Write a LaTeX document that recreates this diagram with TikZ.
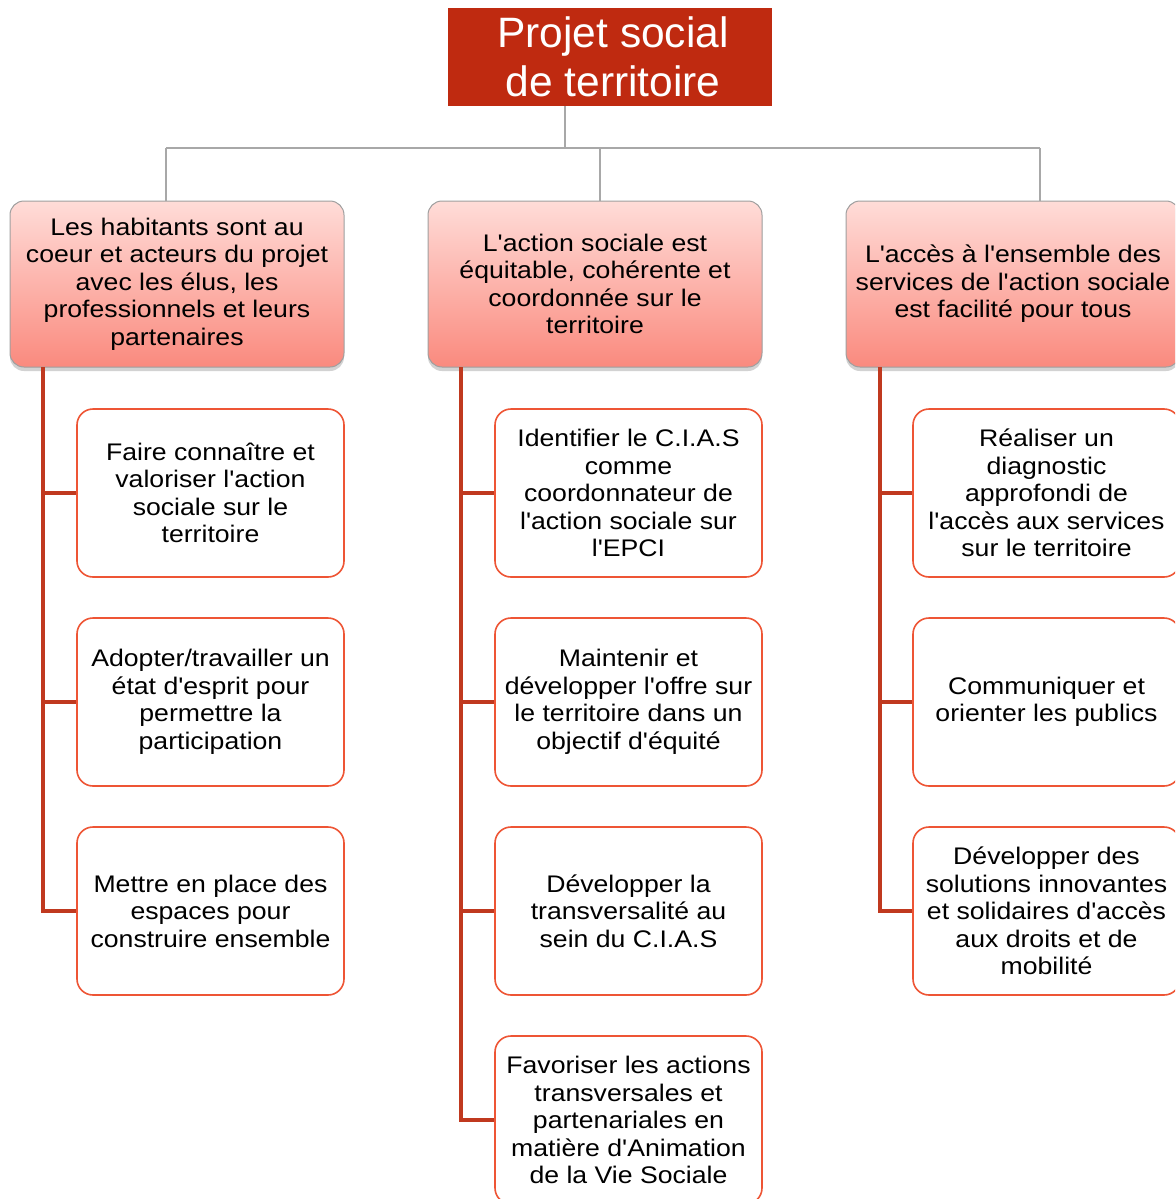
\documentclass[tikz,border=0pt]{standalone}
\usepackage{fontspec}
\setmainfont{Liberation Sans}[Ligatures=TeXOff]
\newfontfamily\bodyfont{Liberation Sans}[FakeStretch=1.11, Ligatures=TeXOff]
\usetikzlibrary{shadows}
\definecolor{titlered}{HTML}{BF2A10}
\definecolor{linkred}{HTML}{C0391F}
\definecolor{boxred}{HTML}{EE5535}
\definecolor{pinktop}{HTML}{FFDCD8}
\definecolor{pinkbot}{HTML}{FA8A7E}
\definecolor{graylink}{HTML}{A8A8A8}
\tikzset{
  txt/.style={font=\bodyfont\fontsize{24}{27.5}\selectfont, align=center, text=black},
  titlebox/.style={fill=titlered, text=white, font=\fontsize{42.5}{49}\selectfont, align=center,
    minimum width=324pt, minimum height=98pt, inner sep=0pt},
  headbox/.style={txt, rounded corners=14pt, draw=gray!75, line width=1pt,
    top color=pinktop, bottom color=pinkbot, minimum width=334pt, minimum height=166pt, inner sep=0pt,
    drop shadow={shadow xshift=0pt, shadow yshift=-4pt, opacity=0.35, fill=gray}},
  childbox/.style={txt, rounded corners=16pt, draw=boxred, line width=1.6pt, fill=white,
    minimum width=267pt, minimum height=168pt, inner sep=0pt},
  graylinkstyle/.style={draw=graylink, line width=1.6pt},
  redlink/.style={draw=linkred, line width=4.5pt}
}
\begin{document}
\begin{tikzpicture}[x=1pt,y=-1pt]
\useasboundingbox (0,0) rectangle (1175,1199);
\clip (0,0) rectangle (1175,1199);
\fill[white] (0,0) rectangle (1175,1199);

% title
\node[titlebox] (T) at (610,57) {\hspace*{6pt}Projet social\\\hspace*{6pt}de territoire};

% headers
\node[headbox] (H1) at (177,284) {Les habitants sont au\\coeur et acteurs du projet\\avec les élus, les\\professionnels et leurs\\partenaires};
\node[headbox] (H2) at (595,284) {L'action sociale est\\équitable, cohérente et\\coordonnée sur le\\territoire};
\node[headbox] (H3) at (1013,284) {L'accès à l'ensemble des\\services de l'action sociale\\est facilité pour tous};

% gray connectors
\coordinate (J) at (565,148);
\coordinate (JL) at (166,148);
\coordinate (JM) at (600,148);
\coordinate (JR) at (1040,148);
\draw[graylinkstyle] (T.south -| J) -- (J);
\draw[graylinkstyle] (JL) -- (JR);
\draw[graylinkstyle] (JL) -- (JL |- H1.north);
\draw[graylinkstyle] (JM) -- (JM |- H2.north);
\draw[graylinkstyle] (JR) -- (JR |- H3.north);

% children left
\node[childbox] (L1) at (210.5,493) {Faire connaître et\\valoriser l'action\\sociale sur le\\territoire};
\node[childbox] (L2) at (210.5,702) {Adopter/travailler un\\état d'esprit pour\\permettre la\\participation};
\node[childbox] (L3) at (210.5,911) {Mettre en place des\\espaces pour\\construire ensemble};

% children middle
\node[childbox] (M1) at (628.5,493) {Identifier le C.I.A.S\\comme\\coordonnateur de\\l'action sociale sur\\l'EPCI};
\node[childbox] (M2) at (628.5,702) {Maintenir et\\développer l'offre sur\\le territoire dans un\\objectif d'équité};
\node[childbox] (M3) at (628.5,911) {Développer la\\transversalité au\\sein du C.I.A.S};
\node[childbox] (M4) at (628.5,1120) {Favoriser les actions\\transversales et\\partenariales en\\matière d'Animation\\de la Vie Sociale};

% children right
\node[childbox] (R1) at (1046.5,493) {Réaliser un\\diagnostic\\approfondi de\\l'accès aux services\\sur le territoire};
\node[childbox] (R2) at (1046.5,702) {Communiquer et\\orienter les publics};
\node[childbox] (R3) at (1046.5,911) {Développer des\\solutions innovantes\\et solidaires d'accès\\aux droits et de\\mobilité};

% red connectors
\coordinate (XL) at (43,367);
\coordinate (XM) at (461,367);
\coordinate (XR) at (880,367);
\draw[redlink] (XL) -- (XL |- L3.west) -- (L3.west);
\draw[redlink] (XL |- L1.west) -- (L1.west);
\draw[redlink] (XL |- L2.west) -- (L2.west);
\draw[redlink] (XM) -- (XM |- M4.west) -- (M4.west);
\draw[redlink] (XM |- M1.west) -- (M1.west);
\draw[redlink] (XM |- M2.west) -- (M2.west);
\draw[redlink] (XM |- M3.west) -- (M3.west);
\draw[redlink] (XR) -- (XR |- R3.west) -- (R3.west);
\draw[redlink] (XR |- R1.west) -- (R1.west);
\draw[redlink] (XR |- R2.west) -- (R2.west);
\end{tikzpicture}
\end{document}
